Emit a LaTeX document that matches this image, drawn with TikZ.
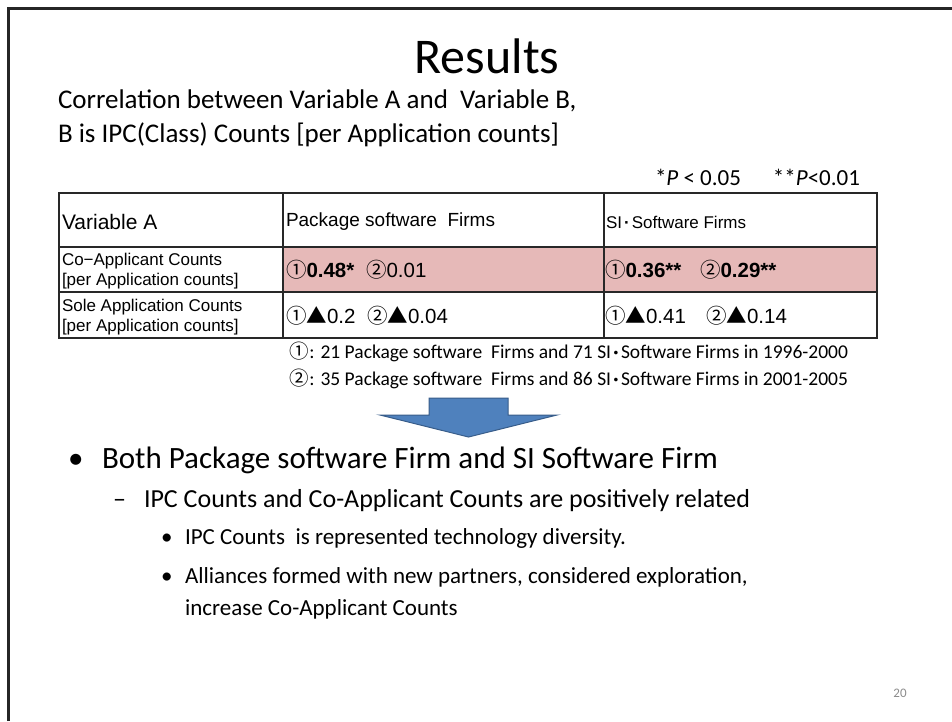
\documentclass[tikz,border=0pt]{standalone}
\usepackage{fontspec}
\setmainfont{Carlito}
\newfontfamily\tabfont{Liberation Sans}
\newfontfamily\cjk{Noto Sans CJK JP}
\newcommand\fsz[2]{\fontsize{#1}{#2}\selectfont}
\newcommand\cone{{\cjk ①}}
\newcommand\ctwo{{\cjk ②}}
\newcommand\tri{{\cjk ▲}}
\newcommand\mdot{\hspace{0.12em}\textbf{·}\hspace{0.12em}}
\definecolor{rowpink}{RGB}{230,185,184}
\definecolor{arrowblue}{RGB}{79,129,189}
\definecolor{arrowedge}{RGB}{56,93,138}
\definecolor{pagegray}{RGB}{140,140,140}
\definecolor{gridline}{RGB}{40,40,40}
\begin{document}
\begin{tikzpicture}[x=1pt,y=-1pt,
  txt/.style={inner sep=0pt, outer sep=0pt},
  headcell/.style={txt, anchor=west, font=\tabfont},
  rowlabel/.style={txt, anchor=west, align=left, font=\tabfont\fsz{17}{20}},
  valcell/.style={txt, anchor=west, font=\tabfont\fsz{20.5}{24}},
  tabline/.style={draw=gridline, line width=1.4pt},
  footnote/.style={txt, anchor=base east, font=\fsz{19.5}{23}},
  lvlone/.style={txt, anchor=base west, font=\fsz{31}{36}},
  lvltwo/.style={txt, anchor=base west, font=\fsz{26}{31}},
  lvlthree/.style={txt, anchor=base west, font=\fsz{23}{30}, align=left}]
\useasboundingbox (0,0) rectangle (952,721);
\fill[white] (0,0) rectangle (952,721);

% slide frame (left and top edges)
\draw[line width=3pt, black!85] (8.5,721) -- (8.5,8.5) -- (952,8.5);

% title and subtitle
\node[txt, anchor=base, font=\fsz{50}{60}] (title) at (487,73) {Results};
\node[txt, anchor=base west, font=\fsz{27}{34}] (sub1) at (58,108)
  {Correlation between Variable A and\ \ Variable B,};
\node[txt, anchor=base west, font=\fsz{27}{34}] (sub2) at (58,142)
  {B is IPC(Class) Counts [per Application counts]};
\node[txt, anchor=base west, font=\fsz{23}{27}] (pv1) at (655,185) {*\textit{P} < 0.05};
\node[txt, anchor=base east, font=\fsz{23}{27}] (pv2) at (860,185) {**\textit{P}<0.01};

% table
\fill[rowpink] (283,247) rectangle (877,292);
\draw[tabline] (59,193) rectangle (877,338);
\draw[tabline] (59,247) -- (877,247);
\draw[tabline] (59,292) -- (877,292);
\draw[tabline] (283,193) -- (283,338);
\draw[tabline] (604,193) -- (604,338);

\node[headcell, font=\tabfont\fsz{21}{24}] (hA) at (62,222) {Variable A};
\node[headcell, font=\tabfont\fsz{19}{22}] (hP) at (286,222) {Package software\ \ Firms};
\node[headcell, font=\tabfont\fsz{17}{20}] (hS) at (606,222) {SI\mdot Software Firms};

\node[rowlabel] (rCo) at (62,271) {Co−Applicant Counts\\{}[per Application counts]};
\node[rowlabel] (rSo) at (62,317) {Sole Application Counts\\{}[per Application counts]};

\node[valcell] (pc1) at (286,270) {\cone\textbf{0.48*}};
\node[valcell] (pc2) at (366,270) {\ctwo 0.01};
\node[valcell] (sc1) at (605,270) {\cone\textbf{0.36**}};
\node[valcell] (sc2) at (700,270) {\ctwo\textbf{0.29**}};
\node[valcell] (ps1) at (286,316) {\cone\tri 0.2};
\node[valcell] (ps2) at (367,316) {\ctwo\tri 0.04};
\node[valcell] (ss1) at (605,316) {\cone\tri 0.41};
\node[valcell] (ss2) at (706,316) {\ctwo\tri 0.14};

% sample notes
\node[footnote] (fn1) at (848,358)
  {\cone: 21 Package software\ \ Firms and 71 SI\mdot Software Firms in 1996-2000};
\node[footnote] (fn2) at (848,385)
  {\ctwo: 35 Package software\ \ Firms and 86 SI\mdot Software Firms in 2001-2005};

% block arrow
\draw[fill=arrowblue, draw=arrowedge, line width=1pt, line join=miter]
  (429,398) -- (508,398) -- (508,415) -- (557,415) -- (468.5,437)
  -- (380,415) -- (429,415) -- cycle;

% conclusions
\node[lvlone] (b1) at (68,468) {•};
\node[lvlone] (t1) at (102,468) {Both Package software Firm and SI Software Firm};
\node[lvltwo] (b2) at (113,507) {–};
\node[lvltwo] (t2) at (144,507) {IPC Counts and Co-Applicant Counts are positively related};
\node[lvlthree] (b3) at (161,544) {•};
\node[lvlthree] (t3) at (185,544) {IPC Counts\ \ is represented technology diversity.};
\node[lvlthree] (b4) at (161,583) {•};
\node[lvlthree] (t4) at (185,583) {Alliances formed with new partners, considered exploration,};
\node[lvlthree] (t5) at (185,615) {increase Co-Applicant Counts};

% page number
\node[txt, font=\fsz{13}{16}, text=pagegray] (page) at (900,693) {20};
\end{tikzpicture}
\end{document}
